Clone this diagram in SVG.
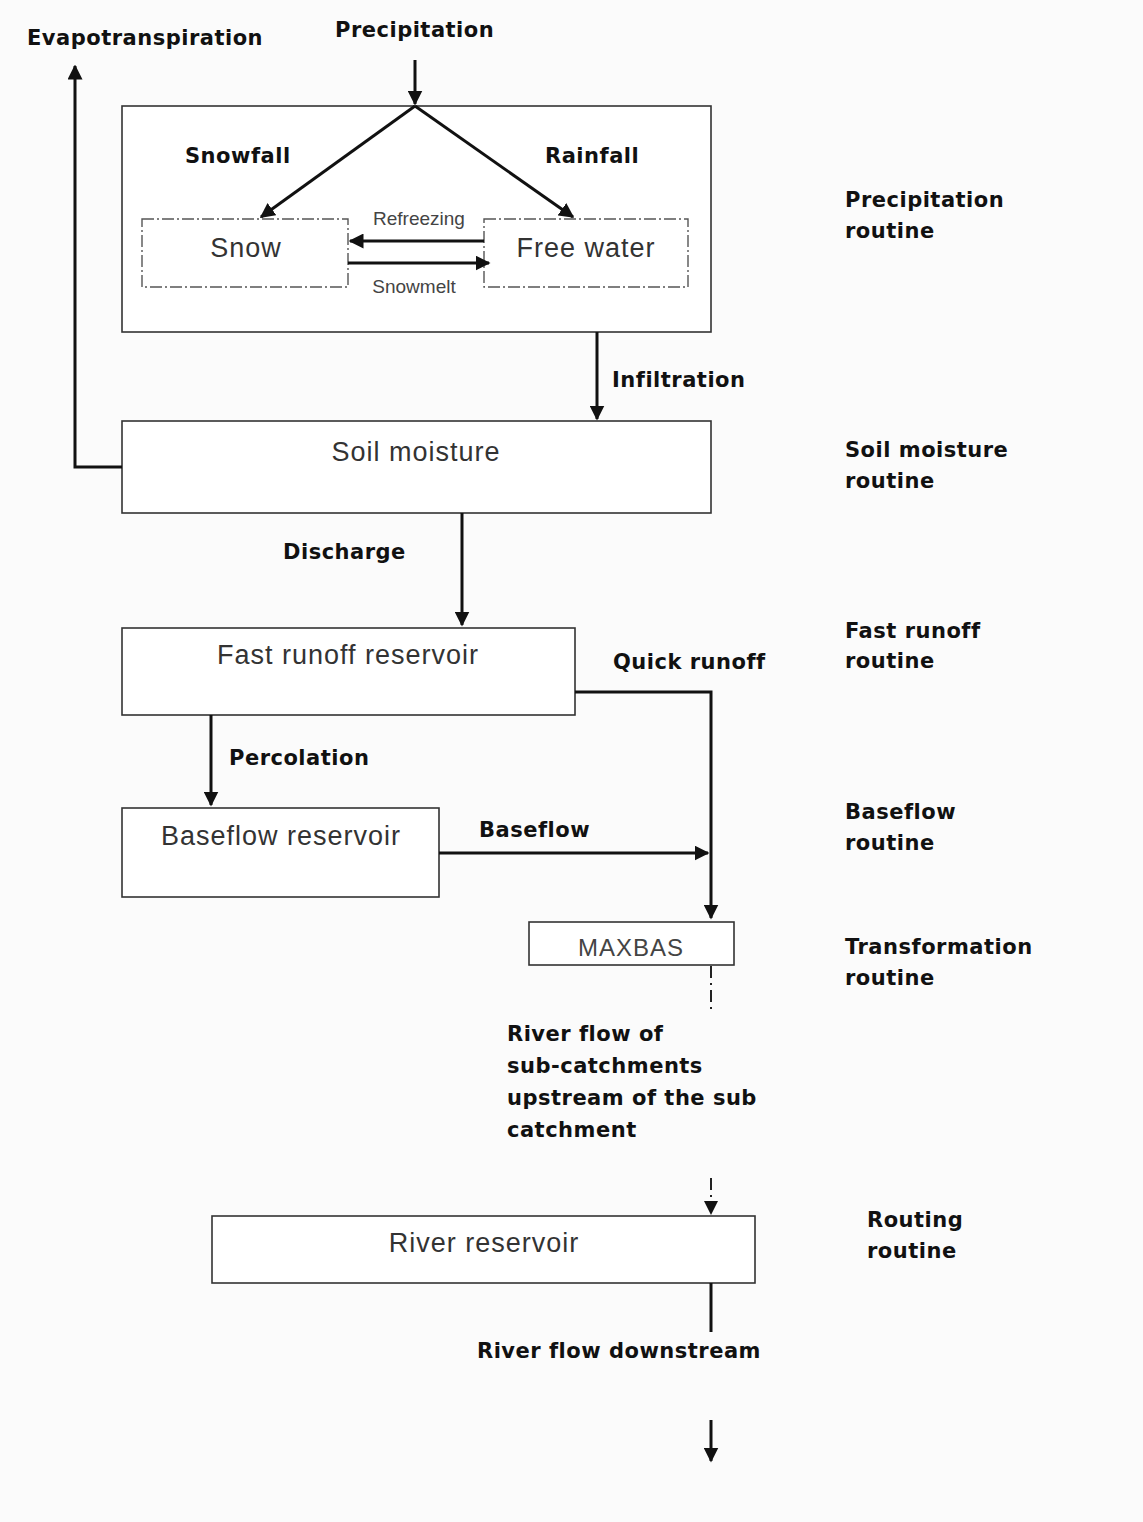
<svg xmlns="http://www.w3.org/2000/svg" width="1143" height="1522" viewBox="0 0 1143 1522">
<style>
.bg{fill:#fbfbfb}
.box{fill:#ffffff;stroke:#333;stroke-width:1.6}
.dbox{fill:#ffffff;stroke:#555;stroke-width:1.4;stroke-dasharray:12 3 2 3}
.lbl{font-family:"DejaVu Sans",sans-serif;font-weight:bold;font-size:21px;letter-spacing:0.5px;fill:#111}
.txt{font-family:"Liberation Sans",Arial,sans-serif;font-size:27px;letter-spacing:1px;fill:#333}
.sm{font-family:"Liberation Sans",Arial,sans-serif;font-size:19px;fill:#444}
.ar{fill:none;stroke:#111;stroke-width:3}
.dd{fill:none;stroke:#222;stroke-width:2;stroke-dasharray:12 5 2 5}
</style>
<defs>
<marker id="ah" viewBox="0 0 10 10" refX="9" refY="5" markerWidth="5" markerHeight="5" orient="auto" markerUnits="strokeWidth">
<path d="M0,0 L10,5 L0,10 z" fill="#111"/>
</marker>
</defs>
<rect class="bg" x="0" y="0" width="1143" height="1522"/>

<g id="precip-box">
<rect class="box" x="122" y="106" width="589" height="226"/>
</g>
<g id="snow">
<rect class="dbox" x="142" y="219" width="206" height="68"/>
<text class="txt" x="246" y="257" text-anchor="middle">Snow</text>
</g>
<g id="freewater">
<rect class="dbox" x="484" y="219" width="204" height="68"/>
<text class="txt" x="586" y="257" text-anchor="middle">Free water</text>
</g>
<g id="soil">
<rect class="box" x="122" y="421" width="589" height="92"/>
<text class="txt" x="416" y="461" text-anchor="middle">Soil moisture</text>
</g>
<g id="fast">
<rect class="box" x="122" y="628" width="453" height="87"/>
<text class="txt" x="348" y="664" text-anchor="middle">Fast runoff reservoir</text>
</g>
<g id="baseflow">
<rect class="box" x="122" y="808" width="317" height="89"/>
<text class="txt" x="281" y="845" text-anchor="middle">Baseflow reservoir</text>
</g>
<g id="maxbas">
<rect class="box" x="529" y="922" width="205" height="43"/>
<text class="txt" x="631" y="956" text-anchor="middle" style="font-size:24px;fill:#444">MAXBAS</text>
</g>
<g id="river">
<rect class="box" x="212" y="1216" width="543" height="67"/>
<text class="txt" x="484" y="1252" text-anchor="middle">River reservoir</text>
</g>

<g id="connectors">
<line class="ar" x1="415" y1="60" x2="415" y2="104" marker-end="url(#ah)"/>
<line class="ar" x1="415" y1="106" x2="261" y2="217" marker-end="url(#ah)"/>
<line class="ar" x1="415" y1="106" x2="573" y2="217" marker-end="url(#ah)"/>
<line class="ar" x1="484" y1="241" x2="350" y2="241" marker-end="url(#ah)"/>
<line class="ar" x1="348" y1="263" x2="489" y2="263" marker-end="url(#ah)"/>
<line class="ar" x1="597" y1="332" x2="597" y2="419" marker-end="url(#ah)"/>
<polyline class="ar" points="122,467 75,467 75,66" marker-end="url(#ah)"/>
<line class="ar" x1="462" y1="513" x2="462" y2="625" marker-end="url(#ah)"/>
<polyline class="ar" points="575,692 711,692 711,918" marker-end="url(#ah)"/>
<line class="ar" x1="211" y1="715" x2="211" y2="805" marker-end="url(#ah)"/>
<line class="ar" x1="439" y1="853" x2="708" y2="853" marker-end="url(#ah)"/>
<line class="dd" x1="711" y1="966" x2="711" y2="1010"/>
<line class="dd" x1="711" y1="1178" x2="711" y2="1210"/>
<path d="M704,1201 L711,1215 L718,1201 z" fill="#111"/>
<line class="ar" x1="711" y1="1283" x2="711" y2="1332"/>
<line class="ar" x1="711" y1="1420" x2="711" y2="1461" marker-end="url(#ah)"/>
</g>

<g id="labels">
<text class="lbl" x="27" y="45">Evapotranspiration</text>
<text class="lbl" x="335" y="37">Precipitation</text>
<text class="lbl" x="185" y="163">Snowfall</text>
<text class="lbl" x="545" y="163">Rainfall</text>
<text class="sm" x="419" y="225" text-anchor="middle">Refreezing</text>
<text class="sm" x="414" y="293" text-anchor="middle">Snowmelt</text>
<text class="lbl" x="612" y="387">Infiltration</text>
<text class="lbl" x="283" y="559">Discharge</text>
<text class="lbl" x="613" y="669">Quick runoff</text>
<text class="lbl" x="229" y="765">Percolation</text>
<text class="lbl" x="479" y="837">Baseflow</text>
<text class="lbl" x="507" y="1041">River flow of</text>
<text class="lbl" x="507" y="1073">sub-catchments</text>
<text class="lbl" x="507" y="1105">upstream of the sub</text>
<text class="lbl" x="507" y="1137">catchment</text>
<text class="lbl" x="477" y="1358">River flow downstream</text>
</g>

<g id="routines">
<text class="lbl" x="845" y="207">Precipitation</text>
<text class="lbl" x="845" y="238">routine</text>
<text class="lbl" x="845" y="457">Soil moisture</text>
<text class="lbl" x="845" y="488">routine</text>
<text class="lbl" x="845" y="638">Fast runoff</text>
<text class="lbl" x="845" y="668">routine</text>
<text class="lbl" x="845" y="819">Baseflow</text>
<text class="lbl" x="845" y="850">routine</text>
<text class="lbl" x="845" y="954">Transformation</text>
<text class="lbl" x="845" y="985">routine</text>
<text class="lbl" x="867" y="1227">Routing</text>
<text class="lbl" x="867" y="1258">routine</text>
</g>
</svg>
